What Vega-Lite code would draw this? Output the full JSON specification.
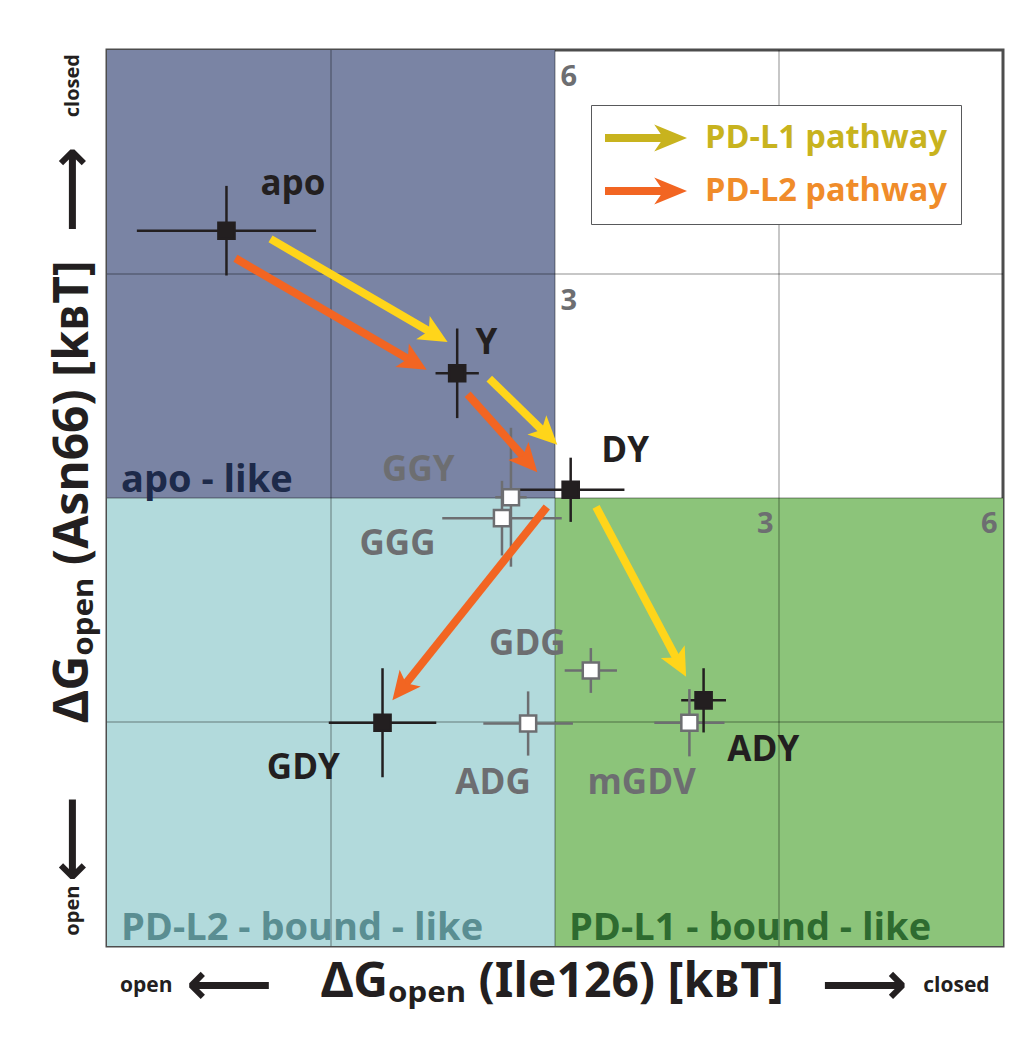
{
  "$schema": "https://vega.github.io/schema/vega-lite/v6.json",
  "width": 896,
  "height": 896,
  "autosize": {"type": "none"},
  "padding": {"left": 107, "top": 50, "right": 26, "bottom": 92},
  "background": "white",
  "config": {
    "view": {"stroke": "#4d4d4d", "strokeWidth": 3},
    "font": "Open Sans"
  },
  "datasets": {
    "regions": [
      {"region": "apo - like", "x": -6, "x2": 0, "y": 0, "y2": 6},
      {"region": "PD-L2 - bound - like", "x": -6, "x2": 0, "y": -6, "y2": 0},
      {"region": "PD-L1 - bound - like", "x": 0, "x2": 6, "y": -6, "y2": 0}
    ],
    "grid": [{"v": -3}, {"v": 0}, {"v": 3}],
    "states": [
      {"name": "apo", "kind": "main", "x": -4.40, "y": 3.58, "xerr": 1.2, "yerr": 0.6, "lx": -3.51, "ly": 4.20},
      {"name": "Y", "kind": "main", "x": -1.31, "y": 1.67, "xerr": 0.29, "yerr": 0.6, "lx": -0.92, "ly": 2.08},
      {"name": "DY", "kind": "main", "x": 0.21, "y": 0.11, "xerr": 0.72, "yerr": 0.43, "lx": 0.94, "ly": 0.63},
      {"name": "GDY", "kind": "main", "x": -2.31, "y": -3.01, "xerr": 0.72, "yerr": 0.73, "lx": -3.37, "ly": -3.61},
      {"name": "ADY", "kind": "main", "x": 1.99, "y": -2.71, "xerr": 0.3, "yerr": 0.43, "lx": 2.79, "ly": -3.37},
      {"name": "GGY", "kind": "mutant", "x": -0.59, "y": 0.01, "xerr": 0.21, "yerr": 0.93, "lx": -1.83, "ly": 0.37},
      {"name": "GGG", "kind": "mutant", "x": -0.71, "y": -0.27, "xerr": 0.8, "yerr": 0.5, "lx": -2.11, "ly": -0.61},
      {"name": "GDG", "kind": "mutant", "x": 0.48, "y": -2.31, "xerr": 0.35, "yerr": 0.3, "lx": -0.37, "ly": -1.95},
      {"name": "ADG", "kind": "mutant", "x": -0.36, "y": -3.02, "xerr": 0.6, "yerr": 0.43, "lx": -0.83, "ly": -3.82},
      {"name": "mGDV", "kind": "mutant", "x": 1.80, "y": -3.01, "xerr": 0.47, "yerr": 0.45, "lx": 1.16, "ly": -3.82}
    ],
    "steps": [
      {"pathway": "PD-L1 pathway", "x": -3.81, "y": 3.47, "x2": -1.56, "y2": 2.16},
      {"pathway": "PD-L1 pathway", "x": -0.88, "y": 1.60, "x2": -0.07, "y2": 0.81},
      {"pathway": "PD-L1 pathway", "x": 0.55, "y": -0.12, "x2": 1.69, "y2": -2.27},
      {"pathway": "PD-L2 pathway", "x": -4.28, "y": 3.21, "x2": -1.84, "y2": 1.79},
      {"pathway": "PD-L2 pathway", "x": -1.17, "y": 1.39, "x2": -0.33, "y2": 0.45},
      {"pathway": "PD-L2 pathway", "x": -0.11, "y": -0.12, "x2": -2.09, "y2": -2.60}
    ]
  },
  "resolve": {
    "scale": {"color": "independent", "fill": "independent", "stroke": "independent"},
    "axis": {"x": "independent", "y": "independent"}
  },
  "layer": [
    {
      "data": {"name": "regions"},
      "mark": {"type": "rect"},
      "encoding": {
        "x": {
          "field": "x", "type": "quantitative",
          "scale": {"domain": [-6, 6], "nice": false, "zero": false},
          "axis": {
            "orient": "bottom",
            "values": [-5.48, -4.37, 4.14, 5.37],
            "labelExpr": "datum.value < -5 ? 'open' : datum.value < 0 ? '⟵' : datum.value < 5 ? '⟶' : 'closed'",
            "ticks": false, "domain": false, "grid": false,
            "labelPadding": 39, "labelBaseline": "middle", "labelAlign": "center",
            "labelFontWeight": "bold", "labelColor": "#231f20",
            "labelFontSize": {"condition": {"test": "abs(datum.value) < 5", "value": 60}, "value": 21},
            "labelFont": {"condition": {"test": "abs(datum.value) < 5", "value": "DejaVu Sans"}, "value": "Open Sans"},
            "labelOverlap": false, "labelFlush": false,
            "title": "ΔGₒₚₑₙ (Ile126) [kʙT]",
            "titleFont": "Noto Sans", "titleFontSize": 48, "titleFontWeight": "bold", "titleColor": "#231f20",
            "titleX": 445, "titleY": 50, "titleAlign": "center", "titleBaseline": "alphabetic"
          }
        },
        "x2": {"field": "x2"},
        "y": {
          "field": "y", "type": "quantitative",
          "scale": {"domain": [-6, 6], "nice": false, "zero": false},
          "axis": {
            "orient": "left",
            "values": [5.53, 4.14, -4.56, -5.52],
            "labelExpr": "datum.value > 5 ? 'closed' : datum.value > 0 ? '⟶' : datum.value > -5 ? '⟵' : 'open'",
            "ticks": false, "domain": false, "grid": false,
            "labelAngle": 270, "labelAlign": "center", "labelBaseline": "middle", "labelPadding": 35,
            "labelFontWeight": "bold", "labelColor": "#231f20",
            "labelFontSize": {"condition": {"test": "abs(datum.value) < 5", "value": 60}, "value": 20},
            "labelFont": {"condition": {"test": "abs(datum.value) < 5", "value": "DejaVu Sans"}, "value": "Open Sans"},
            "labelOverlap": false, "labelFlush": false,
            "title": "ΔGₒₚₑₙ (Asn66) [kʙT]",
            "titleFont": "Noto Sans", "titleFontSize": 48, "titleFontWeight": "bold", "titleColor": "#231f20",
            "titleAngle": 270, "titleX": -20, "titleY": 441, "titleAlign": "center", "titleBaseline": "alphabetic"
          }
        },
        "y2": {"field": "y2"},
        "fill": {
          "field": "region", "type": "nominal",
          "scale": {"domain": ["apo - like", "PD-L2 - bound - like", "PD-L1 - bound - like"], "range": ["#7a84a4", "#b2dadc", "#8cc47a"]},
          "legend": null
        }
      }
    },
    {
      "data": {"name": "grid"},
      "mark": {"type": "rule", "color": "#000000", "opacity": 0.22, "strokeWidth": 2},
      "encoding": {
        "x": {
          "field": "v", "type": "quantitative",
          "scale": {"domain": [-6, 6], "nice": false, "zero": false},
          "axis": {
            "orient": "top", "offset": -448, "values": [3, 6], "zindex": 2,
            "ticks": false, "tickSize": 0, "domain": false, "grid": false,
            "labelAlign": "right", "labelBaseline": "alphabetic", "labelPadding": -34, "labelOffset": -6,
            "labelFont": "Open Sans", "labelFontSize": 29, "labelFontWeight": "bold", "labelColor": "#6d6e71",
            "labelFlush": false, "labelOverlap": false, "title": null
          }
        }
      }
    },
    {
      "data": {"name": "grid"},
      "mark": {"type": "rule", "color": "#000000", "opacity": 0.22, "strokeWidth": 2},
      "encoding": {
        "y": {
          "field": "v", "type": "quantitative",
          "scale": {"domain": [-6, 6], "nice": false, "zero": false},
          "axis": {
            "orient": "right", "offset": -448, "values": [3, 6], "zindex": 2,
            "ticks": false, "tickSize": 0, "domain": false, "grid": false,
            "labelAlign": "left", "labelBaseline": "alphabetic", "labelPadding": 5, "labelOffset": 35,
            "labelFont": "Open Sans", "labelFontSize": 29, "labelFontWeight": "bold", "labelColor": "#6d6e71",
            "labelFlush": false, "labelOverlap": false, "title": null
          }
        }
      }
    },
    {
      "data": {"name": "regions"},
      "mark": {"type": "text", "align": "left", "baseline": "alphabetic", "dx": 14, "dy": -6, "fontSize": 38, "fontWeight": "bold", "font": "Open Sans"},
      "encoding": {
        "x": {"field": "x", "type": "quantitative", "scale": {"domain": [-6, 6], "nice": false, "zero": false}, "axis": null},
        "y": {"field": "y", "type": "quantitative", "scale": {"domain": [-6, 6], "nice": false, "zero": false}, "axis": null},
        "text": {"field": "region"},
        "color": {
          "field": "region", "type": "nominal",
          "scale": {"domain": ["apo - like", "PD-L2 - bound - like", "PD-L1 - bound - like"], "range": ["#1d2a4a", "#5a8e92", "#2e6b30"]},
          "legend": null
        }
      }
    },
    {
      "data": {"name": "states"},
      "mark": {"type": "errorbar", "ticks": false, "thickness": 2.5},
      "encoding": {
        "x": {"field": "x", "type": "quantitative", "scale": {"domain": [-6, 6], "nice": false, "zero": false}, "axis": null},
        "xError": {"field": "xerr"},
        "y": {"field": "y", "type": "quantitative", "scale": {"domain": [-6, 6], "nice": false, "zero": false}, "axis": null},
        "color": {"field": "kind", "type": "nominal", "scale": {"domain": ["main", "mutant"], "range": ["#231f20", "#6d6e71"]}, "legend": null}
      }
    },
    {
      "data": {"name": "states"},
      "mark": {"type": "errorbar", "ticks": false, "thickness": 2.5},
      "encoding": {
        "y": {"field": "y", "type": "quantitative", "scale": {"domain": [-6, 6], "nice": false, "zero": false}, "axis": null},
        "yError": {"field": "yerr"},
        "x": {"field": "x", "type": "quantitative", "scale": {"domain": [-6, 6], "nice": false, "zero": false}, "axis": null},
        "color": {"field": "kind", "type": "nominal", "scale": {"domain": ["main", "mutant"], "range": ["#231f20", "#6d6e71"]}, "legend": null}
      }
    },
    {
      "data": {"name": "states"},
      "mark": {"type": "point", "shape": "square", "filled": true, "size": 260, "strokeWidth": 2.5, "opacity": 1},
      "encoding": {
        "x": {"field": "x", "type": "quantitative", "scale": {"domain": [-6, 6], "nice": false, "zero": false}, "axis": null},
        "y": {"field": "y", "type": "quantitative", "scale": {"domain": [-6, 6], "nice": false, "zero": false}, "axis": null},
        "fill": {"field": "kind", "type": "nominal", "scale": {"domain": ["main", "mutant"], "range": ["#231f20", "#ffffff"]}, "legend": null},
        "stroke": {"field": "kind", "type": "nominal", "scale": {"domain": ["main", "mutant"], "range": ["#231f20", "#6d6e71"]}, "legend": null}
      }
    },
    {
      "data": {"name": "states"},
      "mark": {"type": "text", "align": "center", "baseline": "middle", "fontSize": 35, "fontWeight": "bold", "font": "Open Sans"},
      "encoding": {
        "x": {"field": "lx", "type": "quantitative", "scale": {"domain": [-6, 6], "nice": false, "zero": false}, "axis": null},
        "y": {"field": "ly", "type": "quantitative", "scale": {"domain": [-6, 6], "nice": false, "zero": false}, "axis": null},
        "text": {"field": "name"},
        "color": {"field": "kind", "type": "nominal", "scale": {"domain": ["main", "mutant"], "range": ["#231f20", "#6d6e71"]}, "legend": null}
      }
    },
    {
      "data": {"name": "steps"},
      "mark": {"type": "rule", "strokeWidth": 8, "strokeCap": "butt"},
      "encoding": {
        "x": {"field": "x", "type": "quantitative", "scale": {"domain": [-6, 6], "nice": false, "zero": false}, "axis": null},
        "y": {"field": "y", "type": "quantitative", "scale": {"domain": [-6, 6], "nice": false, "zero": false}, "axis": null},
        "x2": {"field": "x2"},
        "y2": {"field": "y2"},
        "color": {"field": "pathway", "type": "nominal", "scale": {"domain": ["PD-L1 pathway", "PD-L2 pathway"], "range": ["#ffd51a", "#f26522"]}, "legend": null}
      }
    },
    {
      "data": {"name": "steps"},
      "transform": [
        {"calculate": "atan2(datum.x2 - datum.x, datum.y2 - datum.y) * 180 / PI", "as": "heading"}
      ],
      "mark": {"type": "point", "filled": true, "opacity": 1, "size": 900, "strokeWidth": 0, "shape": "M0,-0.7L0.9,1.2L0,0.75L-0.9,1.2Z"},
      "encoding": {
        "x": {"field": "x2", "type": "quantitative", "scale": {"domain": [-6, 6], "nice": false, "zero": false}, "axis": null},
        "y": {"field": "y2", "type": "quantitative", "scale": {"domain": [-6, 6], "nice": false, "zero": false}, "axis": null},
        "angle": {"field": "heading", "type": "quantitative", "scale": null},
        "color": {"field": "pathway", "type": "nominal", "scale": {"domain": ["PD-L1 pathway", "PD-L2 pathway"], "range": ["#ffd51a", "#f26522"]}, "legend": null}
      }
    },
    {
      "data": {"name": "steps"},
      "mark": {"type": "point", "filled": true, "opacity": 0, "size": 10, "strokeWidth": 0},
      "encoding": {
        "x": {"field": "x2", "type": "quantitative", "scale": {"domain": [-6, 6], "nice": false, "zero": false}, "axis": null},
        "y": {"field": "y2", "type": "quantitative", "scale": {"domain": [-6, 6], "nice": false, "zero": false}, "axis": null},
        "color": {
          "field": "pathway", "type": "nominal",
          "scale": {"domain": ["PD-L1 pathway", "PD-L2 pathway"], "range": ["#c8b31e", "#f26522"]},
          "legend": {
            "orient": "none", "legendX": 484, "legendY": 55, "title": null,
            "symbolType": "M-1,-0.1L0.36,-0.1L0.2,-0.33L1,0L0.2,0.33L0.36,0.1L-1,0.1Z",
            "symbolSize": 6724, "symbolStrokeWidth": 0, "symbolOpacity": 1,
            "clipHeight": 38,
            "labelFont": "Open Sans", "labelFontSize": 32.5, "labelFontWeight": "bold",
            "labelColor": {"expr": "datum.value === 'PD-L1 pathway' ? '#c8b31e' : '#f08c2a'"},
            "labelOffset": 18, "rowPadding": 15, "padding": 14, "labelLimit": 400,
            "fillColor": "#ffffff", "strokeColor": "#58595b"
          }
        }
      }
    }
  ]
}
